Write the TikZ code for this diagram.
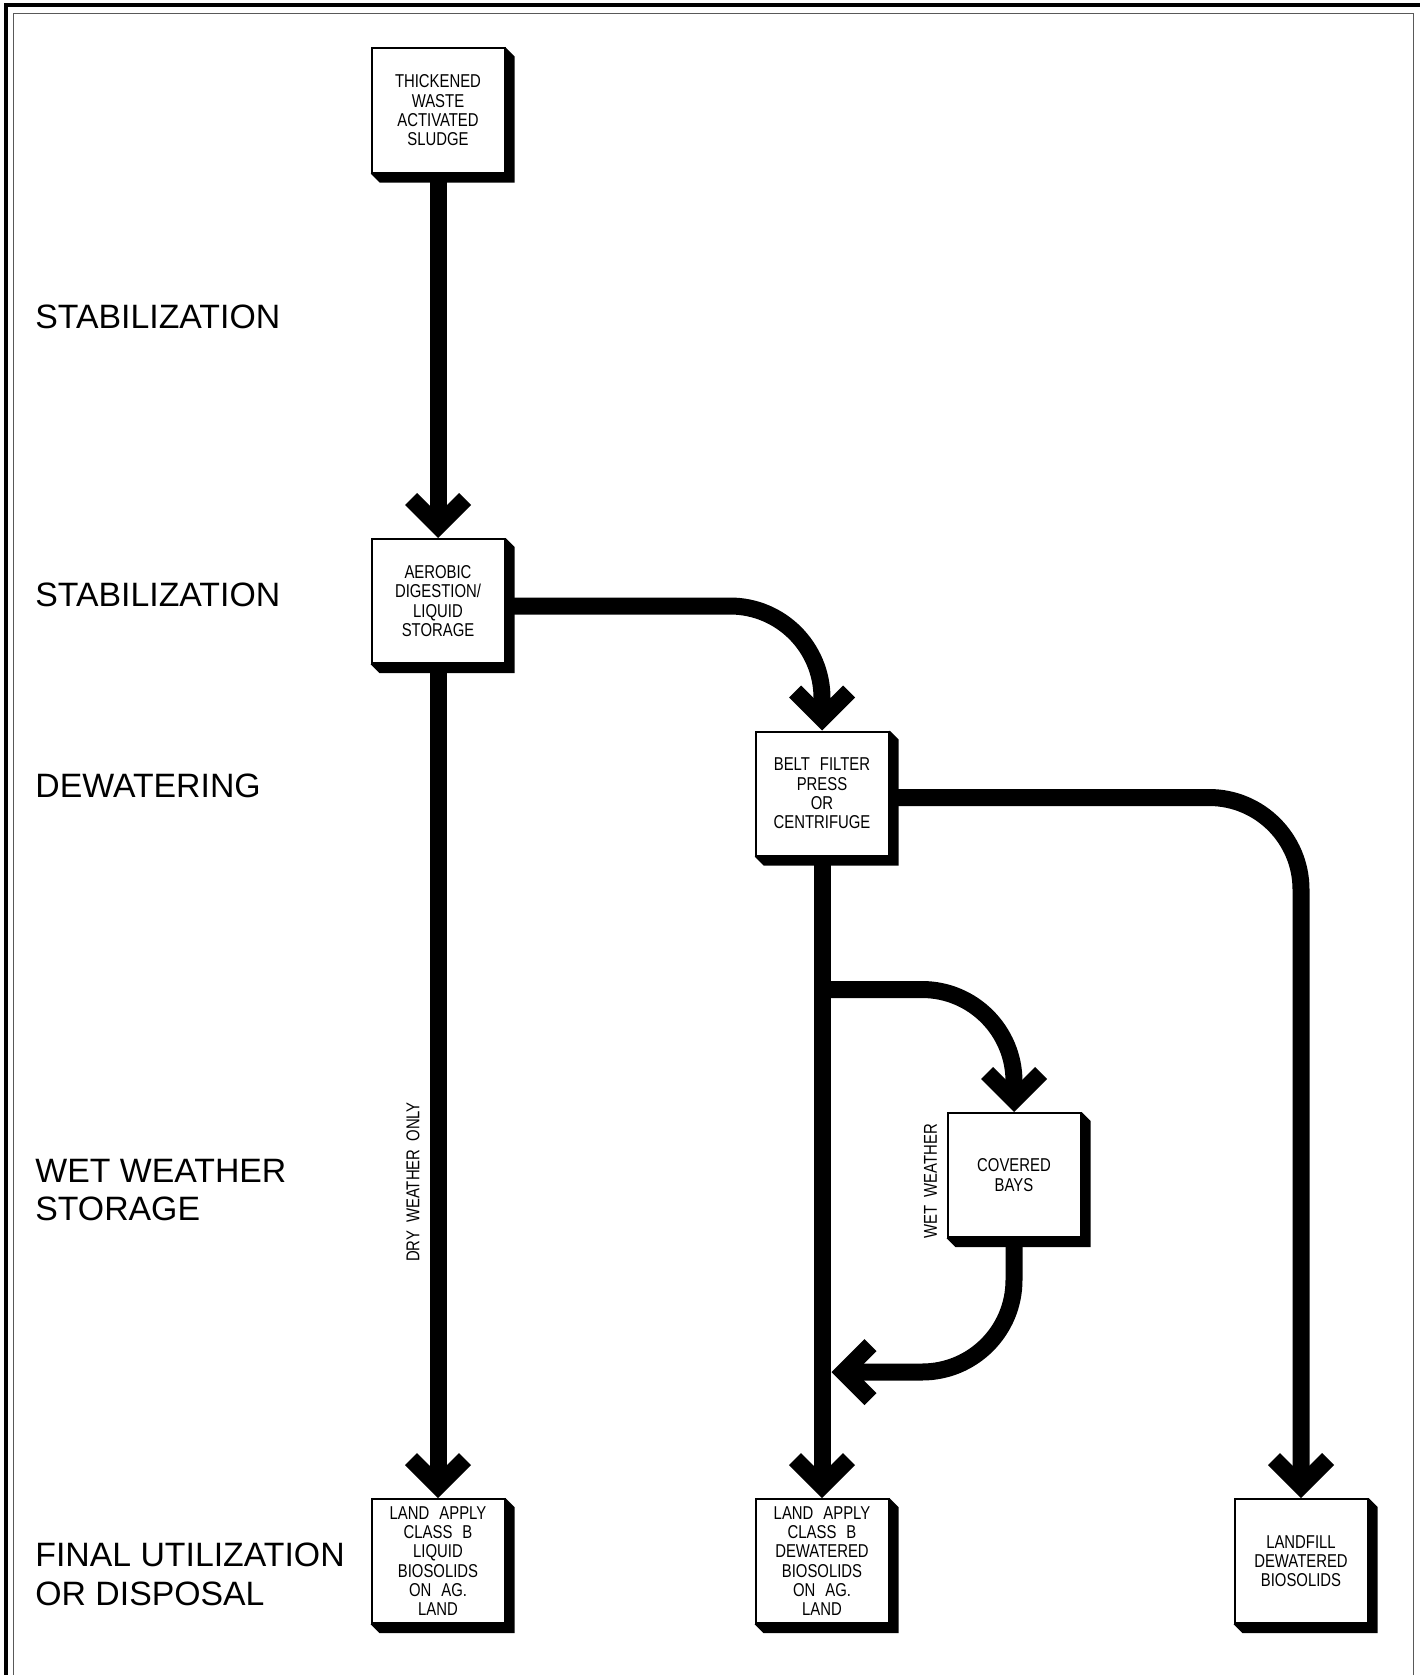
\documentclass[tikz,border=0pt]{standalone}
\usepackage{fontspec}
\setmainfont{Liberation Sans}
\newfontfamily\boxfont[FakeStretch=0.8]{Liberation Sans}
\usetikzlibrary{calc}
\newcommand\wgap{\hspace{5pt}}
\newcommand\sgap{\hspace{4pt}}
\tikzset{
 proc/.style={draw=black, line width=1pt, fill=white, minimum width=66.5pt, minimum height=62pt,
   inner sep=0pt, align=center, font=\boxfont\fontsize{9.3}{9.65}\selectfont},
 shaft/.style={line width=8.5pt, black},
 curveshaft/.style={shaft, rounded corners=46pt},
 stage/.style={anchor=base west, inner sep=0pt, font=\fontsize{16.9}{19.25}\selectfont},
 side/.style={rotate=90, inner sep=0pt, font=\boxfont\fontsize{9.3}{9.65}\selectfont},
 headdown/.pic={\fill (0,0) -- (33,-33) -- (21,-45) -- (8.5,-32.5) -- (-8.5,-32.5) -- (-21,-45) -- (-33,-33) -- cycle;},
 headleft/.pic={\fill (0,0) -- (33,-33) -- (45,-21) -- (32.5,-8.5) -- (32.5,8.5) -- (45,21) -- (33,33) -- cycle;},
}
\begin{document}
\begin{tikzpicture}[x=0.5pt,y=-0.5pt]
\fill[white] (0,0) rectangle (1420,1675);
\useasboundingbox (0,0) rectangle (1420,1675);
% frame
\draw[line width=2pt] (5.5,1675) -- (5.5,5.5) -- (1420,5.5);
\draw[black!65, line width=0.6pt] (13.5,1675) -- (13.5,13.5) -- (1413.5,13.5) -- (1413.5,1675);

% stage labels
\node[stage] (s1) at (35,328) {STABILIZATION};
\node[stage] (s2) at (35,606) {STABILIZATION};
\node[stage] (s3) at (35,797) {DEWATERING};
\node[stage] (s4a) at (35,1182) {WET WEATHER};
\node[stage] (s4b) at (35,1220) {STORAGE};
\node[stage] (s5a) at (35,1566) {FINAL UTILIZATION};
\node[stage] (s5b) at (35,1605) {OR DISPOSAL};

% process boxes
\node[proc] (b1) at (438,110.5) {THICKENED\\WASTE\\ACTIVATED\\SLUDGE};
\node[proc] (b2) at (438,601) {AEROBIC\\DIGESTION/\\LIQUID\\STORAGE};
\node[proc] (b3) at (822,793.5) {BELT\wgap FILTER\\PRESS\\OR\\CENTRIFUGE};
\node[proc] (b4) at (1014,1175) {COVERED\\BAYS};
\node[proc] (b5) at (438,1561) {LAND\wgap APPLY\\CLASS\wgap B\\LIQUID\\BIOSOLIDS\\ON\wgap AG.\\LAND};
\node[proc] (b6) at (822,1561) {LAND\wgap APPLY\\CLASS\wgap B\\DEWATERED\\BIOSOLIDS\\ON\wgap AG.\\LAND};
\node[proc] (b7) at (1301,1561) {LANDFILL\\DEWATERED\\BIOSOLIDS};

% 3D shadows
\foreach \n in {b1,b2,b3,b4,b5,b6,b7}{
  \fill (\n.north east) -- ++(9,9) -- ($(\n.south east)+(9,9)$) -- ($(\n.south west)+(9,9)$)
        -- (\n.south west) -- (\n.south east) -- cycle;
}

% side labels
\node[side] (dry) at (413,1182) {DRY\sgap WEATHER\sgap ONLY};
\node[side] (wet) at (930.5,1181) {WET\sgap WEATHER};

% connectors
\draw[shaft] (b1.south) -- ($(b2.north)+(0,-30)$);
\pic at (b2.north) {headdown};

\coordinate (o2) at ($(b2.east)+(0,5)$);
\draw[curveshaft] (o2) -- (o2 -| b3.north) -- ($(b3.north)+(0,-30)$);
\pic at (b3.north) {headdown};

\coordinate (o3) at ($(b3.east)+(0,4)$);
\draw[curveshaft] (o3) -- (o3 -| b7.north) -- ($(b7.north)+(0,-30)$);
\pic at (b7.north) {headdown};

\draw[shaft] (b2.south) -- ($(b5.north)+(0,-30)$);
\pic at (b5.north) {headdown};

\draw[shaft] (b3.south) -- ($(b6.north)+(0,-30)$);
\pic at (b6.north) {headdown};

\coordinate (br) at ($(b3.south)+(0,133)$);
\draw[curveshaft] (br) -- (br -| b4.north) -- ($(b4.north)+(0,-30)$);
\pic at (b4.north) {headdown};

\coordinate (ret) at ($(b3.south |- 0,1372)+(9.5,0)$);
\draw[curveshaft] (b4.south) -- (b4.south |- ret) -- ($(ret)+(30,0)$);
\pic at (ret) {headleft};
\end{tikzpicture}
\end{document}
